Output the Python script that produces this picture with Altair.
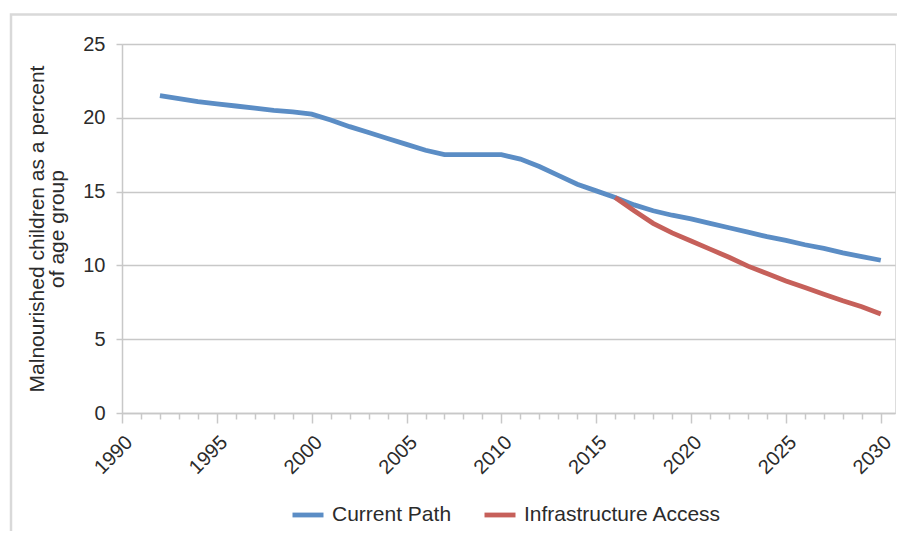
import altair as alt
import pandas as pd

years_current = list(range(1992, 2031))
current_path = [21.5, 21.3, 21.1, 20.95, 20.8, 20.65, 20.5, 20.4, 20.25, 19.85,
                19.4, 19.0, 18.6, 18.2, 17.8, 17.5, 17.5, 17.5, 17.5, 17.2,
                16.7, 16.1, 15.5, 15.05, 14.6, 14.1, 13.7, 13.4, 13.15, 12.85,
                12.55, 12.25, 11.95, 11.7, 11.4, 11.15, 10.85, 10.6, 10.35]
years_infra = list(range(2016, 2031))
infrastructure_access = [14.6, 13.7, 12.85, 12.2, 11.65, 11.1, 10.55, 9.95, 9.45,
                         8.95, 8.5, 8.05, 7.6, 7.2, 6.7]
series_names = ["Current Path", "Infrastructure Access"]
series_colors = ["#5B8DC5", "#C6605A"]
year_ticks = list(range(1990, 2031))

df = pd.concat([
    pd.DataFrame({"year": years_current, "value": current_path, "series": series_names[0]}),
    pd.DataFrame({"year": years_infra, "value": infrastructure_access, "series": series_names[1]}),
])

font = "Liberation Sans"
grey = "#c8c8c8"
txt = "#2b2b2b"

lines = alt.Chart(df).mark_line(strokeWidth=4.8, strokeCap="butt").encode(
    x=alt.X("year:Q",
            scale=alt.Scale(domain=[1990, 2030.75], nice=False, zero=False),
            axis=alt.Axis(values=year_ticks, title=None, grid=False,
                          labelExpr="datum.value % 5 === 0 ? datum.value : ''",
                          labelAngle=-45, labelAlign="right", labelBaseline="middle",
                          labelPadding=16, labelOffset=7,
                          tickSize={"condition": {"test": "datum.value % 5 === 0", "value": 10}, "value": 6},
                          tickColor=grey, tickWidth=1.5, domainColor=grey, domainWidth=1.5,
                          labelFontSize=20, labelColor=txt, labelFont=font,
                          labelOverlap=False)),
    y=alt.Y("value:Q",
            scale=alt.Scale(domain=[0, 25], nice=False),
            axis=alt.Axis(values=[0, 5, 10, 15, 20, 25],
                          title=["Malnourished children as a percent", "of age group"],
                          titleFontSize=21, titleFontWeight="normal", titleFont=font,
                          titleColor=txt, titlePadding=15, titleLineHeight=20,
                          tickSize=6, tickColor=grey, tickWidth=1.5,
                          domainColor=grey, domainWidth=1.5,
                          gridColor=grey, gridWidth=1.5,
                          labelFontSize=20, labelColor=txt, labelFont=font,
                          labelPadding=11)),
    color=alt.Color("series:N",
                    scale=alt.Scale(domain=series_names, range=series_colors),
                    legend=alt.Legend(title=None, orient="none", legendX=168, legendY=453,
                                      direction="horizontal", symbolType="stroke",
                                      symbolStrokeWidth=4.8, symbolSize=961,
                                      labelFontSize=21, labelFont=font, labelColor=txt,
                                      labelOffset=6, columnPadding=22, labelLimit=400)),
)

border = alt.Chart(alt.Data(values=[{}])).mark_rect(
    fill=None, stroke="#d9d9d9", strokeWidth=2.5
).encode(x=alt.value(-111), x2=alt.value(900), y=alt.value(-29.5), y2=alt.value(600))

chart = alt.layer(border, lines).properties(
    width=773, height=369,
    autosize=alt.AutoSizeParams(type="none"),
    padding={"left": 114, "top": 36, "right": 2, "bottom": 118},
).configure_view(stroke=None).configure(background="white")

chart.save("out.html", embed_options={"renderer": "svg", "actions": False})
